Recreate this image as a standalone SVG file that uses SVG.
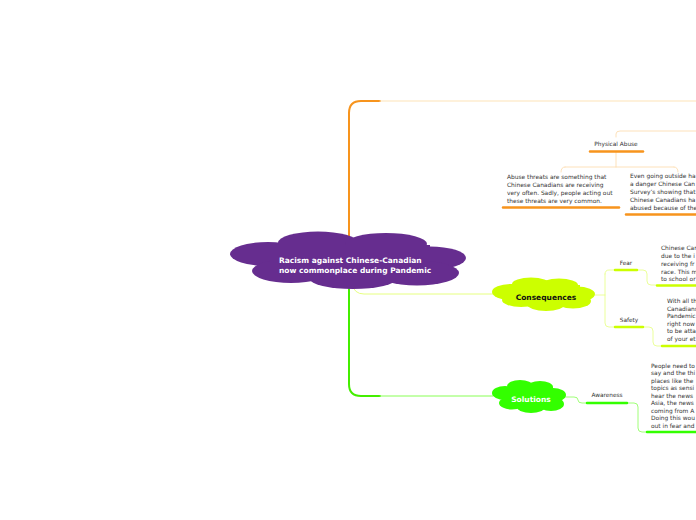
<svg xmlns="http://www.w3.org/2000/svg" width="696" height="520" viewBox="0 0 696 520">
<style>
.t{font-family:"DejaVu Sans","Liberation Sans",sans-serif;font-size:5.9px;fill:#333}
.lbl{font-family:"DejaVu Sans","Liberation Sans",sans-serif;font-size:5.8px;fill:#333}
.big{font-family:"DejaVu Sans","Liberation Sans",sans-serif;font-size:7.5px;font-weight:bold}
.c{fill:none;stroke-linecap:round}
</style>
<rect width="696" height="520" fill="#fff"/>
<g id="connectors">
  <path class="c" d="M349,250 V113 Q349,101 361,101 H380" stroke="#f7941d" stroke-width="2"/>
  <path class="c" d="M380,101 H696" stroke="#fde3b8" stroke-width="1.2"/>
  <path class="c" d="M349,268 V384 Q349,396 361,396 H380" stroke="#44ee00" stroke-width="2"/>
  <path class="c" d="M380,396 H493" stroke="#88ff55" stroke-width="1"/>
  <path class="c" d="M352,284 Q354,294 364,294 H493" stroke="#e6ff80" stroke-width="1"/>
  <path class="c" d="M616,137 V134 Q616,131 620,131 H696" stroke="#fdd9a8" stroke-width="0.8"/>
  <path class="c" d="M616,152 V167 M565,167 H674 M561,172 Q561,167 565,167 M674,167 Q678,167 678,172" stroke="#fdd9a8" stroke-width="0.8"/>
  <path class="c" d="M595,295 H605 M605,274 Q605,270 609,270 H614 M605,274 V323 Q605,327 609,327 H614" stroke="#e6ff80" stroke-width="0.8"/>
  <path class="c" d="M638,270 H643 Q647,270 647,274 V281 Q647,285 651,285 H656" stroke="#e6ff80" stroke-width="0.8"/>
  <path class="c" d="M644,327 H649 Q653,327 653,331 V342 Q653,346 657,346 H661" stroke="#e6ff80" stroke-width="0.8"/>
  <path class="c" d="M566,397 H574 Q578,397 578,400 Q578,403 582,403 H586" stroke="#88ff55" stroke-width="0.8"/>
  <path class="c" d="M628,403 H634 Q638,403 638,407 V428 Q638,432 642,432 H646" stroke="#88ff55" stroke-width="0.8"/>
</g>
<g id="central">
  <g fill="#662d8f">
    <ellipse cx="268" cy="254" rx="38" ry="12"/>
    <ellipse cx="318" cy="243" rx="40" ry="11.5"/>
    <ellipse cx="386" cy="244" rx="41" ry="11"/>
    <ellipse cx="430" cy="258" rx="36" ry="11.5"/>
    <ellipse cx="417" cy="273" rx="42" ry="12.5"/>
    <ellipse cx="353" cy="279" rx="43" ry="10"/>
    <ellipse cx="291" cy="271" rx="39" ry="12"/>
    <rect x="270" y="245" width="160" height="32"/>
  </g>
  <text class="big" fill="#fff" x="279" y="263">Racism against Chinese-Canadian</text>
  <text class="big" fill="#fff" x="279" y="272.5">now commonplace during Pandemic</text>
</g>
<g id="physical-abuse">
  <text class="lbl" x="616" y="146" text-anchor="middle">Physical Abuse</text>
  <line x1="590" y1="151.5" x2="643" y2="151.5" stroke="#f7941d" stroke-width="2.5" stroke-linecap="round"/>
</g>
<g id="abuse-threats">
  <text class="t" x="507" y="179">Abuse threats are something that</text>
  <text class="t" x="507" y="187">Chinese Canadians are receiving</text>
  <text class="t" x="507" y="195">very often. Sadly, people acting out</text>
  <text class="t" x="507" y="203">these threats are very common.</text>
  <line x1="503" y1="207.5" x2="619" y2="207.5" stroke="#f7941d" stroke-width="2.5" stroke-linecap="round"/>
</g>
<g id="going-outside">
  <text class="t" x="630" y="178">Even going outside ha</text>
  <text class="t" x="630" y="186">a danger Chinese Can</text>
  <text class="t" x="630" y="194">Survey’s showing that</text>
  <text class="t" x="630" y="202">Chinese Canadians ha</text>
  <text class="t" x="630" y="210">abused because of the</text>
  <line x1="626" y1="214.5" x2="700" y2="214.5" stroke="#f7941d" stroke-width="2.5" stroke-linecap="round"/>
</g>
<g id="consequences">
  <g fill="#ccff00">
    <ellipse cx="511" cy="292" rx="19" ry="8"/>
    <ellipse cx="531" cy="284" rx="19" ry="6.5"/>
    <ellipse cx="559" cy="285" rx="19" ry="6.5"/>
    <ellipse cx="577" cy="294" rx="18" ry="7.5"/>
    <ellipse cx="573" cy="301" rx="18" ry="7.5"/>
    <ellipse cx="546" cy="304" rx="19" ry="7"/>
    <ellipse cx="521" cy="300" rx="19" ry="7"/>
    <rect x="510" y="285" width="70" height="18"/>
  </g>
  <text class="big" x="546" y="300" text-anchor="middle" fill="#111">Consequences</text>
</g>
<g id="fear">
  <text class="lbl" x="626" y="265" text-anchor="middle">Fear</text>
  <line x1="615" y1="270" x2="637" y2="270" stroke="#ccff00" stroke-width="2.5" stroke-linecap="round"/>
</g>
<g id="fear-text">
  <text class="t" x="661" y="250">Chinese Can</text>
  <text class="t" x="661" y="258">due to the i</text>
  <text class="t" x="661" y="266">receiving fr</text>
  <text class="t" x="661" y="274">race. This m</text>
  <text class="t" x="661" y="281">to school or</text>
  <line x1="657" y1="285.5" x2="700" y2="285.5" stroke="#ccff00" stroke-width="2.5" stroke-linecap="round"/>
</g>
<g id="safety">
  <text class="lbl" x="629" y="322" text-anchor="middle">Safety</text>
  <line x1="615" y1="327" x2="643" y2="327" stroke="#ccff00" stroke-width="2.5" stroke-linecap="round"/>
</g>
<g id="safety-text">
  <text class="t" x="667" y="303">With all th</text>
  <text class="t" x="667" y="311">Canadians</text>
  <text class="t" x="667" y="318">Pandemic</text>
  <text class="t" x="667" y="326">right now</text>
  <text class="t" x="667" y="333">to be atta</text>
  <text class="t" x="667" y="341">of your et</text>
  <line x1="662" y1="346" x2="700" y2="346" stroke="#ccff00" stroke-width="2.5" stroke-linecap="round"/>
</g>
<g id="solutions">
  <g fill="#33ff00">
    <ellipse cx="505" cy="393" rx="13" ry="7"/>
    <ellipse cx="520" cy="386" rx="13" ry="6"/>
    <ellipse cx="540" cy="387" rx="13" ry="6"/>
    <ellipse cx="553" cy="395" rx="13" ry="7"/>
    <ellipse cx="551" cy="404" rx="13" ry="7"/>
    <ellipse cx="531" cy="407" rx="14" ry="6"/>
    <ellipse cx="512" cy="403" rx="13" ry="6.5"/>
    <rect x="505" y="387" width="48" height="18"/>
  </g>
  <text class="big" x="531" y="402" text-anchor="middle" fill="#fff">Solutions</text>
</g>
<g id="awareness">
  <text class="lbl" x="607" y="397" text-anchor="middle">Awareness</text>
  <line x1="587" y1="403" x2="627" y2="403" stroke="#33ff00" stroke-width="2.5" stroke-linecap="round"/>
</g>
<g id="awareness-text">
  <text class="t" x="651" y="368">People need to</text>
  <text class="t" x="651" y="375">say and the thi</text>
  <text class="t" x="651" y="383">places like the</text>
  <text class="t" x="651" y="390">topics as sensi</text>
  <text class="t" x="651" y="398">hear the news</text>
  <text class="t" x="651" y="405">Asia, the news</text>
  <text class="t" x="651" y="413">coming from A</text>
  <text class="t" x="651" y="420">Doing this wou</text>
  <text class="t" x="651" y="428">out in fear and</text>
  <line x1="647" y1="432" x2="700" y2="432" stroke="#33ff00" stroke-width="2.5" stroke-linecap="round"/>
</g>
</svg>
